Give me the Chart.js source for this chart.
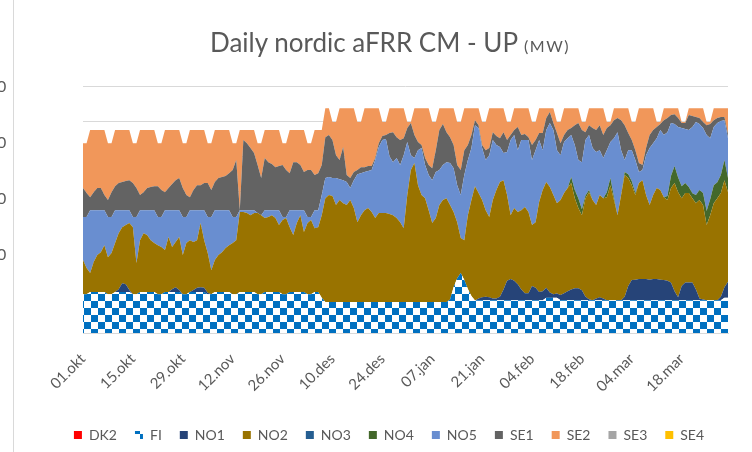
<!DOCTYPE html>
<html>
<head>
<meta charset="utf-8">
<script src="https://cdn.jsdelivr.net/npm/chart.js@4"></script>
<style>
  html, body { margin: 0; padding: 0; background: #fff; }
  #wrap { position: relative; width: 752px; height: 452px; overflow: hidden; font-family: Lato, "Open Sans", sans-serif; }
  #c { position: absolute; left: 0; top: 0; }
  #title { position: absolute; left: 0; width: 780px; top: 26px; text-align: center; color: #595959; font-size: 26px; }
  #title span { font-size: 16px; letter-spacing: 1.5px; }
  .cut { position: absolute; left: -3px; color: #595959; font-size: 16px; line-height: 16px; }
  #frame { position: absolute; left: 13px; top: 0; width: 1px; height: 452px; background: #d9d9d9; }
</style>
</head>
<body>
<div id="wrap">
  <canvas id="c" width="752" height="452"></canvas>
  <div id="title">Daily nordic aFRR CM - UP <span>(MW)</span></div>
  <div class="cut" style="top:78px">0</div>
  <div class="cut" style="top:134px">0</div>
  <div class="cut" style="top:190px">0</div>
  <div class="cut" style="top:246px">0</div>
  <div id="frame"></div>
</div>
<script>
// months of the season, 01.okt .. 31.mar (one point per day)
var MONTHS = [["okt", 31], ["nov", 30], ["des", 31], ["jan", 31], ["feb", 28], ["mar", 31]];
var LABEL_EVERY = 14;

// MW per zone, one value per day
var DK2 = [];
var FI = [
    110,110,116,116,116,116,116,110,110,116,116,116,116,116,
    110,110,116,116,116,116,116,110,110,116,116,116,116,116,
    110,110,116,116,116,116,116,110,110,116,116,116,116,116,
    110,110,116,116,116,116,116,110,110,116,116,116,116,116,
    110,110,116,116,116,116,116,110,110,116,116,100,88,88,
    88,88,88,88,88,88,88,88,88,88,88,88,88,88,
    88,88,88,88,88,88,88,88,88,88,88,88,88,88,
    88,88,88,88,88,95,130,155,170,150,125,105,92,93,
    93,93,93,93,93,93,93,93,93,93,93,93,93,93,
    93,93,93,93,100,100,100,100,93,93,93,93,93,93,
    93,93,93,93,93,93,93,93,93,93,93,93,93,93,
    93,93,93,93,93,93,93,93,93,93,93,93,93,93,
    93,93,93,93,93,93,93,93,93,93,93,93,100,100
];
var NO1 = [
    0,0,0,0,0,0,0,0,0,0,8,25,22,6,
    0,0,0,0,0,0,0,0,0,0,0,8,14,6,
    0,0,0,6,12,14,12,4,0,0,0,0,0,0,
    0,0,0,0,0,0,0,0,0,0,0,0,0,0,
    0,0,0,0,0,0,0,0,0,0,0,0,0,0,
    0,0,0,0,0,0,0,0,0,0,0,0,0,0,
    0,0,0,0,0,0,0,0,0,0,0,0,0,0,
    0,0,0,0,0,0,0,0,0,0,0,0,0,5,
    8,10,8,5,5,10,30,55,60,55,45,30,20,20,
    40,35,23,25,28,15,10,12,15,20,25,30,34,34,
    28,10,3,0,5,8,5,0,0,0,0,0,10,40,
    57,58,60,60,60,58,60,60,58,57,55,50,25,8,
    40,50,50,50,30,5,2,0,0,0,0,10,30,45
];
var NO2 = [
    97,74,54,85,105,113,133,105,117,139,159,159,168,190,
    190,88,147,167,162,147,139,139,134,119,156,120,128,150,
    111,145,147,136,135,182,135,113,68,91,105,113,125,133,
    145,153,227,227,224,218,224,230,224,210,213,218,210,190,
    210,216,184,162,196,218,170,202,210,181,184,234,294,303,
    300,275,289,280,275,289,266,226,246,260,266,255,238,252,
    252,252,249,246,238,226,209,303,374,394,331,303,294,260,
    224,238,275,289,294,268,213,159,99,113,209,272,324,299,
    276,245,228,279,307,325,310,243,181,206,205,225,244,230,
    173,186,255,287,300,299,281,256,269,284,293,302,255,227,
    213,279,303,284,265,290,284,292,326,284,241,298,345,306,
    269,240,272,280,238,212,238,258,254,235,229,268,307,298,
    249,254,254,239,245,279,268,213,241,275,289,294,303,254
];
var NO3 = [];
var NO4 = [
    0,0,0,0,0,0,0,0,0,0,0,0,0,0,
    0,0,0,0,0,0,0,0,0,0,0,0,0,0,
    0,0,0,0,0,0,0,0,0,0,0,0,0,0,
    0,0,0,0,0,0,0,0,0,0,0,0,0,0,
    0,0,0,0,0,0,0,0,0,0,0,0,0,0,
    0,0,0,0,0,0,0,0,0,0,0,0,0,0,
    0,0,0,0,0,0,0,0,0,0,0,0,0,0,
    0,0,0,0,0,0,0,0,0,0,0,0,0,0,
    0,0,0,0,0,0,0,0,0,0,0,0,0,0,
    0,0,0,0,0,0,0,0,0,0,0,17,23,28,
    17,8,6,0,0,0,0,14,20,8,0,0,8,11,
    11,6,0,0,0,0,0,0,0,0,11,34,48,42,
    34,28,17,14,23,28,34,40,45,51,45,51,57,40
];
var NO5 = [
    122,145,178,147,127,119,99,114,102,93,65,48,42,36,
    29,131,85,65,70,85,93,80,85,113,76,104,90,76,
    108,74,85,90,85,36,85,102,151,141,127,119,107,99,
    74,66,5,5,8,14,8,0,0,22,19,14,22,42,
    9,3,48,70,36,14,62,17,9,51,48,57,57,51,
    51,76,59,65,65,34,79,136,119,108,105,119,164,187,
    207,210,164,150,170,162,207,150,42,14,99,133,94,100,
    121,130,99,99,102,119,124,105,122,185,156,147,173,184,
    147,142,175,170,128,99,77,122,213,207,175,199,190,204,
    184,204,176,113,147,181,184,150,127,144,141,119,128,108,
    133,157,156,147,150,127,114,119,102,167,235,127,34,68,
    88,93,31,29,113,161,147,141,170,176,181,150,119,143,
    165,153,161,188,207,187,184,215,173,165,168,153,113,113
];
var SE1 = [
    82,68,37,51,63,63,43,48,70,68,77,80,83,85,
    96,82,43,51,63,66,68,87,76,51,63,74,85,91,
    82,62,37,57,71,71,77,96,76,80,91,94,97,105,
    133,161,0,199,190,176,162,136,105,148,136,131,122,125,
    147,133,105,136,136,128,108,133,133,100,105,85,116,119,
    108,65,54,94,20,28,23,12,17,14,14,11,6,11,
    11,11,66,85,59,71,48,40,91,65,23,9,20,28,
    34,62,113,116,85,73,66,57,71,70,43,37,14,8,
    9,28,20,22,25,25,59,34,14,14,66,14,17,8,
    43,29,20,49,34,31,20,49,34,20,23,20,56,105,
    91,22,28,57,62,71,65,63,48,51,40,85,99,49,
    29,28,26,14,20,37,37,32,17,42,40,23,28,25,
    14,17,43,31,14,17,17,28,40,19,14,11,9,12
];
var SE2 = [
    127,141,190,176,164,164,184,161,139,159,150,147,144,142,
    113,127,184,176,164,161,159,122,133,176,164,153,142,136,
    127,147,190,170,156,156,150,113,133,147,136,133,130,122,
    76,48,227,28,37,51,65,62,99,79,91,96,105,102,
    62,76,122,91,91,99,119,76,76,127,122,99,82,76,
    51,94,147,110,189,198,181,136,128,167,164,164,141,99,
    40,37,70,68,82,90,85,17,3,76,96,104,141,161,
    131,80,62,45,68,82,104,122,136,119,104,76,34,48,
    65,80,113,68,79,85,68,51,37,62,53,76,73,82,
    65,51,70,70,28,11,42,31,60,76,62,56,48,42,
    23,29,48,56,62,48,76,17,9,34,28,34,48,70,
    51,80,155,161,113,76,62,14,6,34,28,19,17,28,
    3,3,19,22,25,28,39,9,6,34,28,25,25,73
];
var SE3 = [];
var SE4 = [];

var days = [];
MONTHS.forEach(function (m) {
    for (var d = 1; d <= m[1]; d++) {
        days.push((d < 10 ? "0" : "") + d + "." + m[0]);
    }
});
// zones with nothing in them still need a flat 0 line for the stack
[DK2, NO3, SE3, SE4].forEach(function (arr) {
    days.forEach(function () { arr.push(0); });
});

var canvas = document.getElementById("c");
var ctx = canvas.getContext("2d");

// blue/white checkerboard used by Excel for FI
function checker() {
    var p = document.createElement("canvas");
    p.width = 14; p.height = 14;
    var g = p.getContext("2d");
    g.fillStyle = "#ffffff";
    g.fillRect(0, 0, 14, 14);
    g.fillStyle = "#0070C0";
    g.fillRect(0, 0, 7, 7);
    g.fillRect(7, 7, 7, 7);
    return ctx.createPattern(p, "repeat");
}

function area(label, data, color) {
    return {
        label: label,
        data: data,
        backgroundColor: color,
        borderColor: color,
        borderWidth: 0,
        pointRadius: 0,
        tension: 0,
        fill: "stack"
    };
}

Chart.defaults.font.family = 'Lato, "Open Sans", sans-serif';
Chart.defaults.color = "#595959";

new Chart(ctx, {
    type: "line",
    data: {
        labels: days,
        datasets: [
            area("DK2", DK2, "#FF0000"),
            area("FI", FI, checker()),
            area("NO1", NO1, "#264478"),
            area("NO2", NO2, "#997300"),
            area("NO3", NO3, "#255E91"),
            area("NO4", NO4, "#43682B"),
            area("NO5", NO5, "#698ED0"),
            area("SE1", SE1, "#636363"),
            area("SE2", SE2, "#F1975A"),
            area("SE3", SE3, "#A5A5A5"),
            area("SE4", SE4, "#FFC000")
        ]
    },
    options: {
        responsive: false,
        animation: false,
        layout: { padding: { left: 50, right: 24, top: 86, bottom: 0 } },
        plugins: {
            title: { display: false },
            tooltip: { enabled: false },
            legend: {
                position: "bottom",
                labels: {
                    boxWidth: 8,
                    boxHeight: 8,
                    padding: 18,
                    font: { size: 14 },
                    color: "#595959"
                }
            }
        },
        scales: {
            x: {
                type: "category",
                offset: false,
                grid: { display: false, drawTicks: false },
                border: { display: true, color: "#d9d9d9" },
                ticks: {
                    autoSkip: false,
                    minRotation: 45,
                    maxRotation: 45,
                    padding: 17,
                    font: { size: 15 },
                    color: "#595959",
                    callback: function (v, i) {
                        return i % LABEL_EVERY === 0 ? days[i] : "";
                    }
                },
                afterFit: function (s) {
                    s.height = 77;
                    s.paddingRight = 0;
                }
            },
            y: {
                stacked: true,
                min: 0,
                max: 700,
                ticks: { display: false, stepSize: 100 },
                grid: { color: "#d9d9d9", drawTicks: false },
                border: { display: false },
                afterFit: function (s) { s.width = 33; }
            }
        }
    }
});
</script>
</body>
</html>
